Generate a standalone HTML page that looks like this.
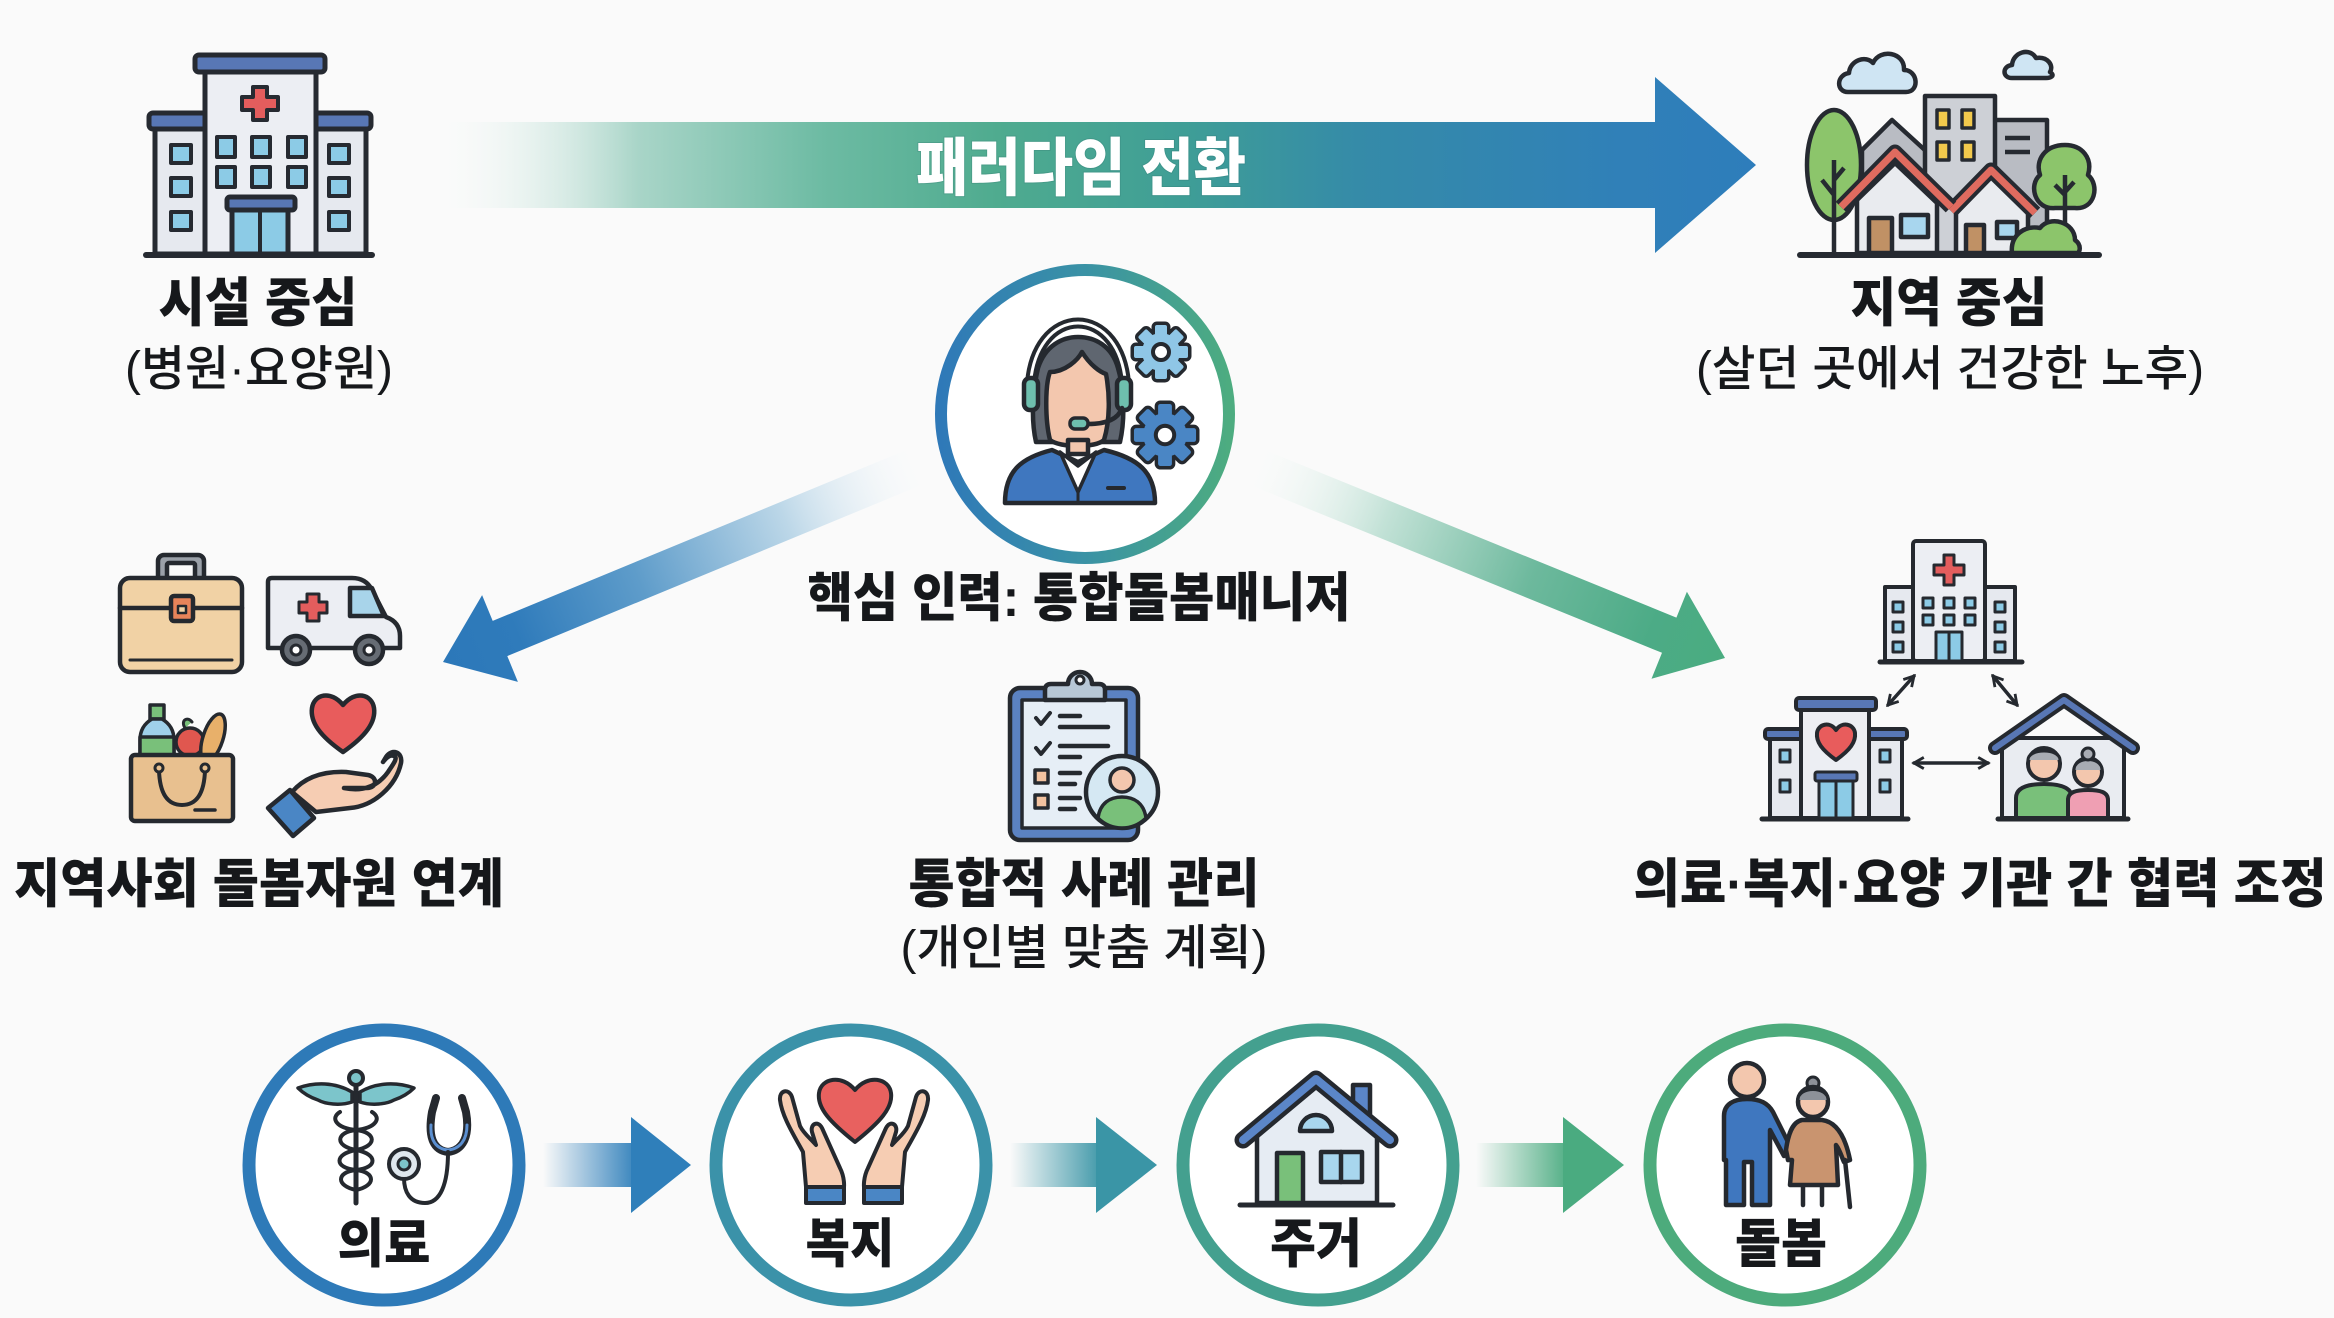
<!DOCTYPE html>
<html><head><meta charset="utf-8">
<style>
html,body{margin:0;padding:0;background:#fafafa;}
svg{display:block;}
text{font-family:"Liberation Sans","Noto Sans CJK KR",sans-serif;}
.b{font-weight:900;fill:#16181b;}
.m{font-weight:500;fill:#16181b;}
</style></head>
<body>
<svg width="2334" height="1318" viewBox="0 0 2334 1318" xmlns="http://www.w3.org/2000/svg">
<defs>
 <linearGradient id="gTop" gradientUnits="userSpaceOnUse" x1="424" y1="0" x2="1756" y2="0">
  <stop offset="0" stop-color="#ffffff" stop-opacity="0"/>
  <stop offset="0.16" stop-color="#a9d5c8"/>
  <stop offset="0.30" stop-color="#6dbba3"/>
  <stop offset="0.43" stop-color="#4fab8f"/>
  <stop offset="0.57" stop-color="#3f9e96"/>
  <stop offset="0.70" stop-color="#358ba8"/>
  <stop offset="0.90" stop-color="#3080b8"/>
  <stop offset="1" stop-color="#2e7dbb"/>
 </linearGradient>
 <linearGradient id="gLeft" gradientUnits="userSpaceOnUse" x1="932" y1="460" x2="443" y2="662">
  <stop offset="0" stop-color="#ffffff" stop-opacity="0"/>
  <stop offset="0.3" stop-color="#bcd7e8"/>
  <stop offset="0.6" stop-color="#5e9cca"/>
  <stop offset="0.85" stop-color="#2f7bbb"/>
  <stop offset="1" stop-color="#2c78b9"/>
 </linearGradient>
 <linearGradient id="gRight" gradientUnits="userSpaceOnUse" x1="1239" y1="460" x2="1725" y2="658">
  <stop offset="0" stop-color="#ffffff" stop-opacity="0"/>
  <stop offset="0.3" stop-color="#c3e2d7"/>
  <stop offset="0.6" stop-color="#6db99d"/>
  <stop offset="0.85" stop-color="#4cab86"/>
  <stop offset="1" stop-color="#4aac80"/>
 </linearGradient>
 <linearGradient id="gRing" x1="0" y1="0" x2="1" y2="0">
  <stop offset="0" stop-color="#2f79b8"/>
  <stop offset="0.5" stop-color="#3a92a5"/>
  <stop offset="1" stop-color="#4dac80"/>
 </linearGradient>
 <linearGradient id="gA1" gradientUnits="userSpaceOnUse" x1="543" y1="0" x2="640" y2="0">
  <stop offset="0" stop-color="#2f7fba" stop-opacity="0"/>
  <stop offset="1" stop-color="#2f7fba"/>
 </linearGradient>
 <linearGradient id="gA2" gradientUnits="userSpaceOnUse" x1="1010" y1="0" x2="1105" y2="0">
  <stop offset="0" stop-color="#3a95a6" stop-opacity="0"/>
  <stop offset="1" stop-color="#3a95a6"/>
 </linearGradient>
 <linearGradient id="gA3" gradientUnits="userSpaceOnUse" x1="1476" y1="0" x2="1572" y2="0">
  <stop offset="0" stop-color="#4aab80" stop-opacity="0"/>
  <stop offset="1" stop-color="#4aab80"/>
 </linearGradient>
 <g id="gear">
  <circle r="19"/>
  <rect x="-6" y="-27" width="12" height="14" rx="2"/>
  <rect x="-6" y="-27" width="12" height="14" rx="2" transform="rotate(45)"/>
  <rect x="-6" y="-27" width="12" height="14" rx="2" transform="rotate(90)"/>
  <rect x="-6" y="-27" width="12" height="14" rx="2" transform="rotate(135)"/>
  <rect x="-6" y="-27" width="12" height="14" rx="2" transform="rotate(180)"/>
  <rect x="-6" y="-27" width="12" height="14" rx="2" transform="rotate(225)"/>
  <rect x="-6" y="-27" width="12" height="14" rx="2" transform="rotate(270)"/>
  <rect x="-6" y="-27" width="12" height="14" rx="2" transform="rotate(315)"/>
 </g>
 <marker id="ah" viewBox="0 0 10 10" refX="8" refY="5" markerWidth="4" markerHeight="4" orient="auto-start-reverse" markerUnits="strokeWidth">
  <path d="M1,1 L8,5 L1,9" fill="none" stroke="#25292f" stroke-width="2"/>
 </marker>
</defs>

<rect width="2334" height="1318" fill="#fafafa"/>

<!-- TOP ARROW -->
<polygon points="424,122 1655,122 1655,77 1756,165 1655,253 1655,208 424,208" fill="url(#gTop)"/>
<text x="1081" y="190" text-anchor="middle" textLength="330" lengthAdjust="spacingAndGlyphs" font-size="63" font-weight="900" fill="#ffffff" style="paint-order:stroke" stroke="#2f6f6a" stroke-opacity="0.25" stroke-width="2">패러다임 전환</text>

<!-- LEFT HOSPITAL -->
<g stroke="#262a31" stroke-width="5" stroke-linejoin="round">
 <rect x="155" y="126" width="52" height="128" fill="#e6e9ef"/>
 <rect x="149" y="113" width="58" height="16" rx="4" fill="#5877b5"/>
 <rect x="314" y="126" width="52" height="128" fill="#e6e9ef"/>
 <rect x="314" y="113" width="57" height="16" rx="4" fill="#5877b5"/>
 <rect x="205" y="70" width="111" height="184" fill="#eceef3"/>
 <rect x="195" y="55" width="130" height="17" rx="4" fill="#5877b5"/>
 <path d="M253,87 L267,87 L267,97 L278,97 L278,110 L267,110 L267,120 L253,120 L253,110 L242,110 L242,97 L253,97 Z" fill="#e35d5d" stroke-width="4"/>
 <g fill="#8ccbe6" stroke-width="4">
  <rect x="217" y="137" width="18" height="20"/><rect x="252" y="137" width="18" height="20"/><rect x="288" y="137" width="18" height="20"/>
  <rect x="217" y="167" width="18" height="20"/><rect x="252" y="167" width="18" height="20"/><rect x="288" y="167" width="18" height="20"/>
  <rect x="171" y="145" width="20" height="18"/><rect x="171" y="178" width="20" height="18"/><rect x="171" y="212" width="20" height="18"/>
  <rect x="329" y="145" width="20" height="18"/><rect x="329" y="178" width="20" height="18"/><rect x="329" y="212" width="20" height="18"/>
 </g>
 <rect x="232" y="208" width="56" height="46" fill="#8ccbe6"/>
 <line x1="260" y1="210" x2="260" y2="254" stroke-width="4"/>
 <rect x="227" y="197" width="68" height="13" rx="3" fill="#5877b5"/>
 <line x1="146" y1="255" x2="372" y2="255" stroke-width="6" stroke-linecap="round"/>
</g>
<text class="b" x="258" y="321" text-anchor="middle" textLength="199" lengthAdjust="spacingAndGlyphs" font-size="53">시설 중심</text>
<text class="m" x="259" y="385" text-anchor="middle" textLength="268" lengthAdjust="spacingAndGlyphs" font-size="48">(병원·요양원)</text>

<!-- RIGHT TOWN -->
<g stroke="#262a31" stroke-width="4.5" stroke-linejoin="round">
 <path d="M1848,92 C1836,92 1836,75 1849,73 C1850,60 1866,55 1873,63 C1880,48 1905,52 1904,70 C1918,70 1920,92 1906,92 Z" fill="#cfe5f3"/>
 <path d="M2012,78 C2002,78 2002,66 2012,65 C2013,52 2030,47 2036,58 C2048,56 2054,66 2050,72 C2056,76 2050,78 2046,78 Z" fill="#cfe5f3"/>
 <polygon points="1862,150 1892,120 1927,152 1927,253 1862,253" fill="#b9bcc3"/>
 <rect x="1993" y="120" width="54" height="133" fill="#b9bcc3"/>
 <line x1="2005" y1="138" x2="2030" y2="138"/><line x1="2005" y1="152" x2="2030" y2="152"/>
 <rect x="1925" y="96" width="70" height="157" fill="#cdd0d6"/>
 <g fill="#f2c94c" stroke-width="3.5">
  <rect x="1937" y="110" width="12" height="18"/><rect x="1962" y="110" width="12" height="18"/>
  <rect x="1937" y="142" width="12" height="18"/><rect x="1962" y="142" width="12" height="18"/>
 </g>
 <ellipse cx="1834" cy="165" rx="27" ry="55" fill="#8cc56b"/>
 <path d="M1834,160 L1834,253 M1834,195 L1822,180 M1834,180 L1844,168" fill="none"/>
 <path d="M2065,145 C2045,145 2035,160 2040,175 C2028,185 2035,210 2055,208 L2075,208 C2095,210 2100,185 2088,175 C2093,158 2082,145 2065,145 Z" fill="#8cc56b"/>
 <path d="M2065,175 L2065,253 M2065,195 L2055,185 M2065,192 L2074,182" fill="none"/>
 <path d="M1956,253 L1956,210 L1991,175 L2028,212 L2028,253 Z" fill="#e9ebef"/>
 <polyline points="1951,211 1991,170 2035,213" fill="none" stroke-width="15"/>
 <polyline points="1951,211 1991,170 2035,213" fill="none" stroke="#e06b5f" stroke-width="7"/>
 <rect x="1966" y="225" width="18" height="28" fill="#c09165"/>
 <rect x="1997" y="222" width="20" height="16" fill="#a8d6ee"/>
 <path d="M1857,253 L1857,200 L1895,163 L1937,203 L1937,253 Z" fill="#e9ebef"/>
 <polyline points="1841,207 1895,152 1951,207" fill="none" stroke-width="15"/>
 <polyline points="1841,207 1895,152 1951,207" fill="none" stroke="#e06b5f" stroke-width="7"/>
 <rect x="1869" y="218" width="23" height="35" fill="#c09165"/>
 <rect x="1901" y="215" width="27" height="22" fill="#a8d6ee"/>
 <path d="M2012,253 C2010,235 2025,225 2040,228 C2050,215 2075,222 2075,240 C2082,245 2080,253 2077,253 Z" fill="#8cc56b"/>
 <line x1="1800" y1="255" x2="2099" y2="255" stroke-width="6" stroke-linecap="round"/>
</g>
<text class="b" x="1949" y="321" text-anchor="middle" textLength="197" lengthAdjust="spacingAndGlyphs" font-size="53">지역 중심</text>
<text class="m" x="1950" y="385" text-anchor="middle" textLength="508" lengthAdjust="spacingAndGlyphs" font-size="48">(살던 곳에서 건강한 노후)</text>

<!-- DIAGONAL ARROWS -->
<polygon points="924.7,442.4 492.7,620.9 482.1,595.1 443,662 517.9,681.9 507.3,656.1 939.3,477.6" fill="url(#gLeft)"/>
<polygon points="1246.2,442.4 1676.4,617.6 1686.9,591.7 1725,658 1651.5,678.7 1662,652.8 1231.8,477.6" fill="url(#gRight)"/>

<!-- CENTRAL CIRCLE -->
<circle cx="1085" cy="414" r="144" fill="#ffffff" stroke="url(#gRing)" stroke-width="12"/>
<g stroke="#25292f" stroke-width="4.5" stroke-linejoin="round" stroke-linecap="round">
 <path d="M1030,395 C1030,345 1055,323 1078,323 C1101,323 1126,345 1126,395" fill="none" stroke-width="11"/>
 <path d="M1030,395 C1030,345 1055,323 1078,323 C1101,323 1126,345 1126,395" fill="none" stroke="#ffffff" stroke-width="3"/>
 <path d="M1036,442 C1030,415 1034,385 1038,368 C1045,346 1062,337 1078,337 C1095,337 1112,346 1118,368 C1123,385 1126,415 1120,442 Z" fill="#5f6670"/>
 <path d="M1050,440 C1045,420 1045,385 1050,372 C1065,372 1078,360 1082,352 C1090,365 1100,372 1106,374 C1110,395 1110,420 1104,440 C1096,448 1060,448 1050,440 Z" fill="#f3c7ae"/>
 <rect x="1068" y="440" width="20" height="14" fill="#f3c7ae"/>
 <rect x="1024" y="378" width="14" height="32" rx="6" fill="#6ebfae"/>
 <rect x="1117" y="378" width="14" height="32" rx="6" fill="#6ebfae"/>
 <path d="M1122,408 C1118,420 1105,424 1088,424" fill="none"/>
 <rect x="1070" y="418" width="18" height="11" rx="5" fill="#6ebfae" stroke-width="3.5"/>
 <path d="M1005,503 C1005,472 1020,458 1052,450 L1078,462 L1104,450 C1138,458 1155,472 1155,503 Z" fill="#3f77bf"/>
 <path d="M1060,452 L1078,492 L1096,452 L1078,466 Z" fill="#ffffff" stroke-width="3.5"/>
 <line x1="1078" y1="492" x2="1078" y2="503" stroke-width="3"/>
 <line x1="1108" y1="488" x2="1124" y2="488" stroke-width="4"/>
</g>
<g transform="translate(1161,352)">
 <use href="#gear" fill="#25292f" stroke="#25292f" stroke-width="7" stroke-linejoin="round"/>
 <use href="#gear" fill="#8fc6e6"/>
 <circle r="8" fill="#ffffff" stroke="#25292f" stroke-width="4"/>
</g>
<g transform="translate(1165,435) scale(1.15)">
 <use href="#gear" fill="#25292f" stroke="#25292f" stroke-width="6" stroke-linejoin="round"/>
 <use href="#gear" fill="#4a86c5"/>
 <circle r="8" fill="#ffffff" stroke="#25292f" stroke-width="3.5"/>
</g>
<text class="b" x="1079" y="616" text-anchor="middle" textLength="543" lengthAdjust="spacingAndGlyphs" font-size="53">핵심 인력: 통합돌봄매니저</text>

<!-- LEFT GROUP ICONS -->
<g stroke="#25292f" stroke-width="4.5" stroke-linejoin="round" stroke-linecap="round">
 <rect x="158" y="555" width="46" height="28" rx="6" fill="#9aa0a8"/>
 <rect x="167" y="563" width="28" height="20" rx="2" fill="#fafafa"/>
 <rect x="120" y="578" width="122" height="94" rx="10" fill="#f1d2a5"/>
 <line x1="120" y1="608" x2="242" y2="608"/>
 <line x1="130" y1="660" x2="232" y2="660" stroke-width="3"/>
 <rect x="171" y="596" width="22" height="25" rx="3" fill="#e8845a"/>
 <rect x="178" y="606" width="8" height="7" fill="#f1d2a5" stroke-width="2.5"/>
 <path d="M272,578 L352,578 Q366,578 372,590 L386,617 Q400,622 400,636 L400,648 L268,648 L268,582 Q268,578 272,578 Z" fill="#eceef3"/>
 <path d="M350,588 L372,588 L384,616 L350,616 Z" fill="#a8d4ea"/>
 <path d="M307,594 L319,594 L319,602 L327,602 L327,613 L319,613 L319,621 L307,621 L307,613 L299,613 L299,602 L307,602 Z" fill="#e35d5d" stroke-width="3"/>
 <circle cx="296" cy="650" r="14" fill="#666c74"/><circle cx="296" cy="650" r="5" fill="#ffffff" stroke-width="3"/>
 <circle cx="369" cy="650" r="14" fill="#666c74"/><circle cx="369" cy="650" r="5" fill="#ffffff" stroke-width="3"/>
 <rect x="150" y="705" width="14" height="14" fill="#79c07a" stroke-width="3.5"/>
 <path d="M152,719 L162,719 Q174,726 174,740 L174,760 L140,760 L140,740 Q140,726 152,719 Z" fill="#9fd0ea" stroke-width="3.5"/>
 <rect x="140" y="737" width="34" height="20" fill="#79c07a" stroke-width="3.5"/>
 <circle cx="190" cy="742" r="14" fill="#e0574f" stroke-width="3.5"/>
 <path d="M185,728 C180,720 188,716 192,722" fill="#79c07a" stroke-width="3"/>
 <ellipse cx="213" cy="738" rx="10" ry="25" transform="rotate(18 213 738)" fill="#e8b06a" stroke-width="3.5"/>
 <rect x="131" y="755" width="102" height="66" rx="4" fill="#e8c08f"/>
 <path d="M159,770 Q160,805 182,805 Q204,805 205,770" fill="none" stroke-width="4"/>
 <circle cx="159" cy="768" r="4" fill="#e8c08f" stroke-width="3"/>
 <circle cx="205" cy="768" r="4" fill="#e8c08f" stroke-width="3"/>
 <line x1="195" y1="810" x2="215" y2="810" stroke-width="3.5"/>
 <path d="M343,752 C320,736 310,722 312,708 C314,694 331,690 343,705 C355,690 372,694 374,708 C376,722 366,736 343,752 Z" fill="#e85c5c"/>
 <path d="M292,792 C304,778 322,771 346,772 L368,775 C378,777 377,788 367,788 L344,788 C364,792 378,786 388,772 C394,763 398,758 394,756 C390,754 386,758 383,762 L386,757 C392,748 403,752 401,763 C396,786 374,806 350,808 L316,812 Z" fill="#f6cdb3"/>
 <polygon points="268,808 290,790 314,818 293,836" fill="#4a86c5"/>
</g>
<text class="b" x="259" y="902" text-anchor="middle" textLength="490" lengthAdjust="spacingAndGlyphs" font-size="53">지역사회 돌봄자원 연계</text>

<!-- CLIPBOARD -->
<g stroke="#25292f" stroke-width="4.5" stroke-linejoin="round" stroke-linecap="round">
 <rect x="1010" y="688" width="128" height="152" rx="10" fill="#5b82c2"/>
 <rect x="1022" y="700" width="104" height="128" fill="#e6eef6" stroke-width="3.5"/>
 <path d="M1045,700 L1045,690 Q1045,684 1051,684 L1068,684 A12,12 0 0 1 1092,684 L1099,684 Q1105,684 1105,690 L1105,700 Z" fill="#b7c7d6"/>
 <circle cx="1080" cy="680" r="4" fill="#ffffff" stroke-width="3"/>
 <path d="M1036,718 L1041,724 L1050,713" fill="none" stroke-width="4"/>
 <path d="M1036,748 L1041,754 L1050,743" fill="none" stroke-width="4"/>
 <line x1="1060" y1="716" x2="1080" y2="716"/><line x1="1060" y1="727" x2="1108" y2="727"/>
 <line x1="1060" y1="746" x2="1108" y2="746"/><line x1="1060" y1="757" x2="1080" y2="757"/>
 <rect x="1035" y="770" width="13" height="13" fill="#f2c2a0" stroke-width="3.5"/>
 <rect x="1035" y="795" width="13" height="13" fill="#f2c2a0" stroke-width="3.5"/>
 <line x1="1060" y1="773" x2="1080" y2="773"/><line x1="1060" y1="784" x2="1075" y2="784"/>
 <line x1="1060" y1="798" x2="1080" y2="798"/><line x1="1060" y1="809" x2="1075" y2="809"/>
 <circle cx="1122" cy="792" r="36" fill="#d5e8f3"/>
 <circle cx="1122" cy="780" r="12" fill="#f3c7ae" stroke-width="3.5"/>
 <path d="M1098,818 C1100,803 1110,797 1122,797 C1134,797 1144,803 1146,818 C1140,824 1132,828 1122,828 C1112,828 1104,824 1098,818 Z" fill="#79c07a" stroke-width="3.5"/>
</g>
<text class="b" x="1084" y="902" text-anchor="middle" textLength="351" lengthAdjust="spacingAndGlyphs" font-size="53">통합적 사례 관리</text>
<text class="m" x="1084" y="964" text-anchor="middle" textLength="367" lengthAdjust="spacingAndGlyphs" font-size="48">(개인별 맞춤 계획)</text>

<!-- RIGHT GROUP -->
<g stroke="#25292f" stroke-width="4" stroke-linejoin="round" stroke-linecap="round">
 <rect x="1885" y="587" width="28" height="74" fill="#e6e9ef"/>
 <rect x="1985" y="587" width="30" height="74" fill="#e6e9ef"/>
 <rect x="1913" y="541" width="72" height="120" rx="3" fill="#eceef3"/>
 <path d="M1944,555 L1954,555 L1954,565 L1964,565 L1964,575 L1954,575 L1954,585 L1944,585 L1944,575 L1934,575 L1934,565 L1944,565 Z" fill="#e35d5d" stroke-width="3"/>
 <g fill="#8ccbe6" stroke-width="3">
  <rect x="1923" y="598" width="10" height="10"/><rect x="1944" y="598" width="10" height="10"/><rect x="1965" y="598" width="10" height="10"/>
  <rect x="1923" y="615" width="10" height="10"/><rect x="1944" y="615" width="10" height="10"/><rect x="1965" y="615" width="10" height="10"/>
  <rect x="1893" y="602" width="10" height="10"/><rect x="1893" y="622" width="10" height="10"/><rect x="1893" y="642" width="10" height="10"/>
  <rect x="1995" y="602" width="10" height="10"/><rect x="1995" y="622" width="10" height="10"/><rect x="1995" y="642" width="10" height="10"/>
  <rect x="1936" y="632" width="26" height="29"/>
 </g>
 <line x1="1949" y1="632" x2="1949" y2="661" stroke-width="3"/>
 <line x1="1880" y1="662" x2="2022" y2="662" stroke-width="5"/>
 <line x1="1914" y1="676" x2="1888" y2="705" stroke-width="3.5" marker-start="url(#ah)" marker-end="url(#ah)"/>
 <line x1="1993" y1="676" x2="2017" y2="705" stroke-width="3.5" marker-start="url(#ah)" marker-end="url(#ah)"/>
 <line x1="1914" y1="763" x2="1988" y2="763" stroke-width="3.5" marker-start="url(#ah)" marker-end="url(#ah)"/>
 <rect x="1770" y="736" width="31" height="82" fill="#e6e9ef"/>
 <rect x="1869" y="736" width="33" height="82" fill="#e6e9ef"/>
 <rect x="1765" y="729" width="38" height="10" rx="3" fill="#5877b5"/>
 <rect x="1867" y="729" width="40" height="10" rx="3" fill="#5877b5"/>
 <rect x="1801" y="708" width="68" height="110" fill="#eceef3"/>
 <rect x="1796" y="698" width="80" height="12" rx="3" fill="#5877b5"/>
 <path d="M1836,760 C1822,750 1816,742 1817,733 C1818,724 1830,721 1836,730 C1842,721 1854,724 1855,733 C1856,742 1850,750 1836,760 Z" fill="#e85c5c"/>
 <g fill="#8ccbe6" stroke-width="3">
  <rect x="1780" y="750" width="10" height="12"/><rect x="1780" y="780" width="10" height="12"/>
  <rect x="1880" y="750" width="10" height="12"/><rect x="1880" y="780" width="10" height="12"/>
  <rect x="1819" y="780" width="34" height="38"/>
 </g>
 <line x1="1836" y1="780" x2="1836" y2="818" stroke-width="3"/>
 <rect x="1815" y="772" width="42" height="9" rx="2" fill="#5877b5" stroke-width="3"/>
 <line x1="1762" y1="819" x2="1908" y2="819" stroke-width="5"/>
 <rect x="2002" y="738" width="122" height="80" fill="#e9ecf1"/>
 <polyline points="1995,748 2064,700 2133,748" fill="none" stroke-width="14"/>
 <polyline points="1995,748 2064,700 2133,748" fill="none" stroke="#5877b5" stroke-width="6"/>
 <path d="M2016,818 L2016,798 C2016,788 2026,784 2044,784 C2062,784 2072,788 2072,798 L2072,818 Z" fill="#79c07a"/>
 <circle cx="2044" cy="764" r="16" fill="#f3c7ae"/>
 <path d="M2028,760 C2028,748 2060,748 2060,760" fill="#a8acb3" stroke-width="3"/>
 <path d="M2068,818 L2068,800 C2068,792 2076,790 2088,790 C2100,790 2108,792 2108,800 L2108,818 Z" fill="#ef9fb3"/>
 <circle cx="2088" cy="772" r="14" fill="#f3c7ae"/>
 <path d="M2074,770 C2074,756 2102,756 2102,770" fill="#a8acb3" stroke-width="3"/>
 <circle cx="2088" cy="754" r="6" fill="#a8acb3" stroke-width="3"/>
 <line x1="1998" y1="819" x2="2128" y2="819" stroke-width="5"/>
</g>
<text class="b" x="1980" y="902" text-anchor="middle" textLength="693" lengthAdjust="spacingAndGlyphs" font-size="53">의료·복지·요양 기관 간 협력 조정</text>

<!-- BOTTOM ARROWS -->
<rect x="543" y="1143" width="90" height="44" fill="url(#gA1)"/>
<polygon points="631,1117 691,1165 631,1213" fill="#2f7fba"/>
<rect x="1010" y="1143" width="88" height="44" fill="url(#gA2)"/>
<polygon points="1096,1117 1157,1165 1096,1213" fill="#3a95a6"/>
<rect x="1476" y="1143" width="89" height="44" fill="url(#gA3)"/>
<polygon points="1563,1117 1624,1165 1563,1213" fill="#4aab80"/>

<!-- BOTTOM CIRCLES -->
<circle cx="384" cy="1165" r="135" fill="#ffffff" stroke="#2e7ab8" stroke-width="13"/>
<circle cx="851" cy="1165" r="135" fill="#ffffff" stroke="#3b92a9" stroke-width="13"/>
<circle cx="1318" cy="1165" r="135" fill="#ffffff" stroke="#44a08f" stroke-width="13"/>
<circle cx="1785" cy="1165" r="135" fill="#ffffff" stroke="#4dab7c" stroke-width="13"/>

<g stroke="#25292f" stroke-width="4" stroke-linejoin="round" stroke-linecap="round">
 <line x1="356" y1="1085" x2="356" y2="1203" stroke-width="5"/>
 <circle cx="356" cy="1078" r="7" fill="#7cc5cb"/>
 <path d="M352,1092 C335,1082 315,1082 298,1088 C305,1095 312,1098 318,1100 C325,1104 340,1106 352,1102 Z" fill="#7cc5cb" stroke-width="3.5"/>
 <path d="M360,1092 C377,1082 397,1082 414,1088 C407,1095 400,1098 394,1100 C387,1104 372,1106 360,1102 Z" fill="#7cc5cb" stroke-width="3.5"/>
 <path d="M340,1112 C330,1118 336,1128 356,1130 C376,1132 378,1146 356,1150 C334,1154 334,1168 356,1170 C376,1172 376,1186 356,1190" fill="none"/>
 <path d="M372,1112 C382,1118 376,1128 356,1130 C336,1132 334,1146 356,1150 C378,1154 378,1168 356,1170 C336,1172 336,1186 356,1190" fill="none"/>
 <path d="M436,1098 L432,1112 C428,1135 432,1150 448,1152 C464,1150 470,1135 466,1112 L462,1098" fill="none" stroke-width="8"/>
 <path d="M431,1125 C430,1140 436,1149 448,1150 C460,1149 467,1140 467,1125" fill="none" stroke="#5b8fd0" stroke-width="3"/>
 <path d="M448,1152 C448,1185 440,1203 425,1203 C410,1203 404,1192 404,1178" fill="none"/>
 <circle cx="404" cy="1164" r="15" fill="#dfe7ee"/>
 <circle cx="404" cy="1164" r="6" fill="#7cc5cb" stroke-width="3"/>
</g>
<text class="b" x="384" y="1262" text-anchor="middle" textLength="93" lengthAdjust="spacingAndGlyphs" font-size="53">의료</text>

<g stroke="#25292f" stroke-width="4" stroke-linejoin="round" stroke-linecap="round">
 <path d="M855,1142 C830,1122 817,1108 819,1093 C821,1078 842,1074 855,1090 C868,1074 889,1078 891,1093 C893,1108 880,1122 855,1142 Z" fill="#e8615f"/>
 <g id="lh">
  <path d="M806,1187 L803,1152 C795,1137 782,1117 780,1100 C779,1090 789,1088 792,1097 L800,1126 C804,1134 810,1138 816,1145 L812,1132 C810,1124 818,1120 822,1128 L840,1168 C845,1178 844,1187 844,1187 Z" fill="#f6cdb3"/>
  <rect x="806" y="1187" width="38" height="16" fill="#4a86c5"/>
 </g>
 <use href="#lh" transform="translate(1708,0) scale(-1,1)"/>
</g>
<text class="b" x="850" y="1262" text-anchor="middle" textLength="89" lengthAdjust="spacingAndGlyphs" font-size="53">복지</text>

<g stroke="#25292f" stroke-width="4.5" stroke-linejoin="round" stroke-linecap="round">
 <rect x="1353" y="1085" width="17" height="32" fill="#5b86c8"/>
 <path d="M1257,1203 L1257,1135 L1316,1087 L1377,1135 L1377,1203 Z" fill="#e6ecf3"/>
 <polyline points="1243,1140 1316,1079 1390,1140" fill="none" stroke-width="17"/>
 <polyline points="1243,1140 1316,1079 1390,1140" fill="none" stroke="#5b86c8" stroke-width="8"/>
 <path d="M1300,1131 A16,16 0 0 1 1332,1131 Z" fill="#a8d6ee"/>
 <rect x="1277" y="1153" width="26" height="50" fill="#79c07a"/>
 <rect x="1321" y="1152" width="41" height="30" fill="#a8d6ee"/>
 <line x1="1341" y1="1152" x2="1341" y2="1182"/>
 <line x1="1240" y1="1205" x2="1393" y2="1205" stroke-width="5"/>
</g>
<text class="b" x="1316" y="1262" text-anchor="middle" textLength="92" lengthAdjust="spacingAndGlyphs" font-size="53">주거</text>

<g stroke="#25292f" stroke-width="4.5" stroke-linejoin="round" stroke-linecap="round">
 <circle cx="1747" cy="1080" r="17" fill="#f3c7ae"/>
 <path d="M1724,1160 L1724,1116 C1724,1104 1734,1099 1747,1099 C1760,1099 1768,1103 1773,1112 L1792,1150 L1784,1156 L1770,1130 L1770,1205 L1752,1205 L1752,1162 L1744,1162 L1744,1205 L1726,1205 L1726,1160 Z" fill="#3f77bf"/>
 <circle cx="1813" cy="1083" r="6" fill="#8d9199" stroke-width="3"/>
 <circle cx="1813" cy="1102" r="15" fill="#f3c7ae"/>
 <path d="M1798,1100 C1798,1086 1828,1086 1828,1100" fill="#8d9199" stroke-width="3"/>
 <line x1="1803" y1="1185" x2="1803" y2="1205"/><line x1="1822" y1="1185" x2="1822" y2="1205"/>
 <path d="M1802,1120 C1792,1122 1788,1135 1786,1150 L1788,1160 L1792,1160 L1790,1185 L1838,1185 L1836,1145 C1840,1150 1842,1158 1844,1162 L1850,1160 C1846,1140 1838,1122 1822,1120 Z" fill="#c9946f"/>
 <line x1="1845" y1="1160" x2="1850" y2="1207"/>
</g>
<text class="b" x="1781" y="1262" text-anchor="middle" textLength="92" lengthAdjust="spacingAndGlyphs" font-size="53">돌봄</text>
</svg>
</body></html>
